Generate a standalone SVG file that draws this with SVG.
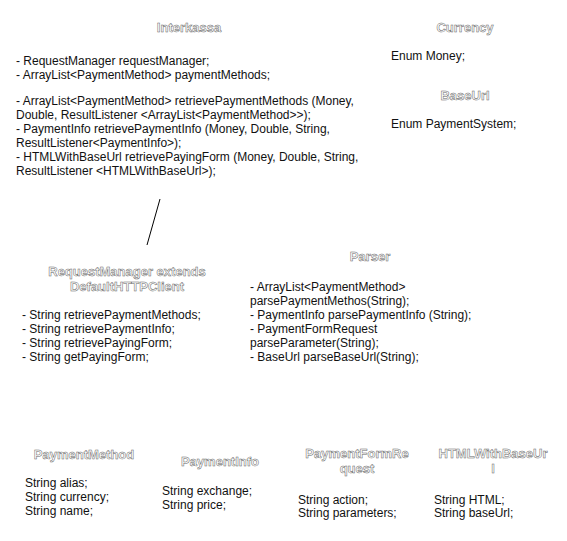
<svg xmlns="http://www.w3.org/2000/svg" width="567" height="541" viewBox="0 0 567 541">
<style>
.t{font-family:"Liberation Sans",Arial,sans-serif;font-size:13px;font-weight:bold;fill:#fff;stroke:#666;stroke-width:0.5;text-anchor:middle}
.b{font-family:"Liberation Sans",Arial,sans-serif;font-size:12px;fill:#111}
</style>
<rect width="567" height="541" fill="#fff"/>
<g id="connectors">
<line x1="160" y1="199" x2="147" y2="245" stroke="#000" stroke-width="1"/>
</g>
<g id="Interkassa">
<text class="t" x="189" y="32">Interkassa</text>
<text class="b" x="16" y="65">- RequestManager requestManager;</text>
<text class="b" x="16" y="79">- ArrayList&lt;PaymentMethod&gt; paymentMethods;</text>
<text class="b" x="16" y="105">- ArrayList&lt;PaymentMethod&gt; retrievePaymentMethods (Money,</text>
<text class="b" x="16" y="119">Double, ResultListener &lt;ArrayList&lt;PaymentMethod&gt;&gt;);</text>
<text class="b" x="16" y="133">- PaymentInfo retrievePaymentInfo (Money, Double, String,</text>
<text class="b" x="16" y="147">ResultListener&lt;PaymentInfo&gt;);</text>
<text class="b" x="16" y="161">- HTMLWithBaseUrl retrievePayingForm (Money, Double, String,</text>
<text class="b" x="16" y="175">ResultListener &lt;HTMLWithBaseUrl&gt;);</text>
</g>
<g id="Currency">
<text class="t" x="465" y="32">Currency</text>
<text class="b" x="391" y="60">Enum Money;</text>
</g>
<g id="BaseUrl">
<text class="t" x="465" y="100">BaseUrl</text>
<text class="b" x="391" y="128">Enum PaymentSystem;</text>
</g>
<g id="RequestManager">
<text class="t" x="127" y="276">RequestManager extends</text>
<text class="t" x="127" y="291">DefaultHTTPClient</text>
<text class="b" x="22" y="319">- String retrievePaymentMethods;</text>
<text class="b" x="22" y="333">- String retrievePaymentInfo;</text>
<text class="b" x="22" y="347">- String retrievePayingForm;</text>
<text class="b" x="22" y="361">- String getPayingForm;</text>
</g>
<g id="Parser">
<text class="t" x="370" y="261">Parser</text>
<text class="b" x="250" y="291">- ArrayList&lt;PaymentMethod&gt;</text>
<text class="b" x="250" y="305">parsePaymentMethos(String);</text>
<text class="b" x="250" y="319">- PaymentInfo parsePaymentInfo (String);</text>
<text class="b" x="250" y="333">- PaymentFormRequest</text>
<text class="b" x="250" y="347">parseParameter(String);</text>
<text class="b" x="250" y="361">- BaseUrl parseBaseUrl(String);</text>
</g>
<g id="PaymentMethod">
<text class="t" x="84" y="459">PaymentMethod</text>
<text class="b" x="25" y="487">String alias;</text>
<text class="b" x="25" y="501">String currency;</text>
<text class="b" x="25" y="515">String name;</text>
</g>
<g id="PaymentInfo">
<text class="t" x="220" y="466">PaymentInfo</text>
<text class="b" x="162" y="495">String exchange;</text>
<text class="b" x="162" y="509">String price;</text>
</g>
<g id="PaymentFormRequest">
<text class="t" x="357" y="458">PaymentFormRe</text>
<text class="t" x="357" y="473">quest</text>
<text class="b" x="298" y="504">String action;</text>
<text class="b" x="298" y="517">String parameters;</text>
</g>
<g id="HTMLWithBaseUrl">
<text class="t" x="493" y="458">HTMLWithBaseUr</text>
<text class="t" x="493" y="473">l</text>
<text class="b" x="434" y="504">String HTML;</text>
<text class="b" x="434" y="517">String baseUrl;</text>
</g>
</svg>
